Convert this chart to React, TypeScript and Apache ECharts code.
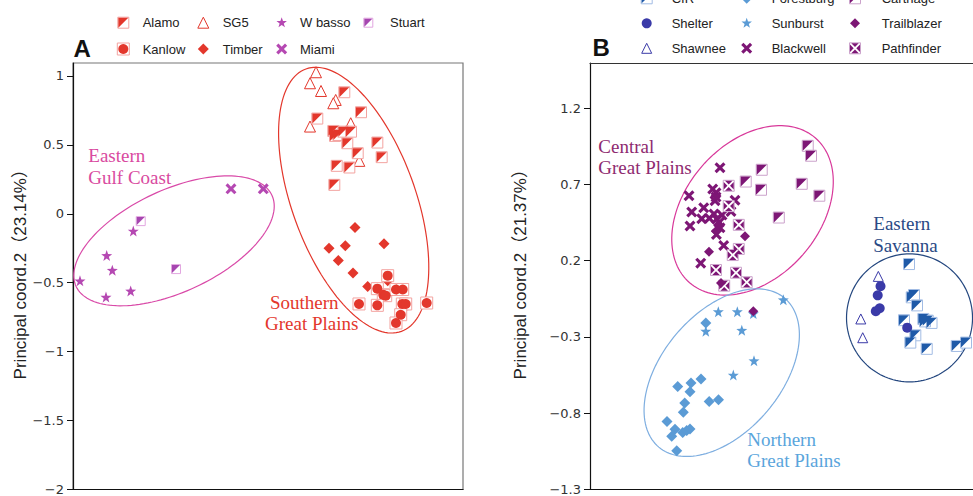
import React, { useEffect, useRef } from "react";
import * as echarts from "echarts";

// ---------- Panel A data (x: PCo1 in arbitrary units 0–10, y: PCo2) ----------
const alamo = [
  [6.956, 0.882], [7.385, 0.737], [6.264, 0.691], [6.674, 0.601], [6.718, 0.565],
  [6.803, 0.572], [6.931, 0.596], [7.128, 0.596], [7.033, 0.512], [7.803, 0.517],
  [7.3, 0.44], [7.915, 0.411], [6.762, 0.348], [7.085, 0.336], [6.7, 0.21],
];
const sg5 = [
  [6.231, 1.027], [6.077, 0.947], [6.359, 0.891], [6.736, 0.826], [6.674, 0.802],
  [7.121, 0.657], [6.077, 0.633], [7.341, 0.384],
];
const timber = [
  [7.231, -0.099], [6.564, -0.249], [6.982, -0.232], [7.974, -0.217], [6.803, -0.338],
  [7.179, -0.43], [7.556, -0.527], [8.069, -0.486],
];
const kanlow = [
  [8.069, -0.449], [7.803, -0.543], [7.956, -0.587], [8.018, -0.594], [8.282, -0.549],
  [8.454, -0.549], [7.333, -0.654], [7.803, -0.664], [8.444, -0.654], [8.531, -0.654],
  [9.069, -0.647], [8.403, -0.732], [8.282, -0.792],
];
const wBasso = [
  [1.546, -0.125], [0.864, -0.302], [1.008, -0.409], [0.179, -0.486], [0.846, -0.604], [1.479, -0.56],
];
const stuart = [[1.736, -0.053], [2.641, -0.401]];
const miami = [[4.051, 0.181], [4.879, 0.181]];
const yTicksA = [-2, -1.5, -1, -0.5, 0, 0.5, 1];

// ---------- Panel B data ----------
const cir = [
  [7.975, 0.178], [8.043, -0.04], [8.1, -0.025], [8.175, -0.093], [7.85, -0.19],
  [8.333, -0.182], [8.443, -0.193], [8.538, -0.208], [8.375, -0.198], [8.133, -0.289],
  [8.008, -0.337], [8.418, -0.378], [9.168, -0.359], [9.4, -0.337],
];
const shelter = [[7.263, 0.033], [7.193, -0.027], [7.243, -0.112], [7.145, -0.131], [7.93, -0.239]];
const shawnee = [[7.208, 0.097], [6.77, -0.182], [6.818, -0.305]];
const forestburg = [
  [2.895, -0.209], [2.775, -0.575], [2.193, -0.624], [2.525, -0.601], [2.5, -0.66],
  [2.368, -0.733], [2.333, -0.793], [2.98, -0.723], [3.213, -0.711], [1.925, -0.854],
  [2.125, -0.905], [2.318, -0.926], [2.418, -0.913], [2.5, -0.904], [2.043, -0.951], [2.168, -1.046],
];
const sunburst = [
  [4.833, -0.056], [3.208, -0.134], [3.683, -0.134], [4.083, -0.147], [2.895, -0.262],
  [3.795, -0.256], [4.1, -0.456], [3.583, -0.55],
];
const carthage = [
  [5.443, 0.953], [5.525, 0.888], [4.293, 0.796], [3.893, 0.719], [4.275, 0.665],
  [5.293, 0.704], [5.733, 0.626], [4.72, 0.483],
];
const blackwell = [
  [3.25, 0.809], [2.475, 0.626], [2.543, 0.519], [2.5, 0.427], [2.843, 0.547],
  [2.793, 0.475], [2.983, 0.478], [3.15, 0.645], [3.125, 0.593], [3.15, 0.617],
  [3.625, 0.596], [3.525, 0.522], [3.168, 0.473], [3.233, 0.451], [3.25, 0.416],
  [3.16, 0.372], [3.343, 0.3], [2.768, 0.184], [3.068, 0.67], [3.1, 0.506], [3.3, 0.499],
];
const trailblazer = [
  [3.875, 0.36], [2.975, 0.259], [3.275, 0.054], [3.2, 0.434], [3.15, 0.395], [4.083, -0.131],
];
const pathfinder = [
  [3.468, 0.691], [3.468, 0.558], [3.72, 0.435], [3.72, 0.277], [3.568, 0.237],
  [3.15, 0.139], [3.65, 0.121], [3.918, 0.059], [3.355, 0.036],
];
const yTicksB = [-1.3, -0.8, -0.3, 0.2, 0.7, 1.2];

// ---------- symbols ----------
const starPath = (() => {
  const pts: string[] = [];
  for (let i = 0; i < 10; i++) {
    const ang = -Math.PI / 2 + (i * Math.PI) / 5;
    const r = i % 2 === 0 ? 5 : 2.0;
    pts.push(`${(5 + r * Math.cos(ang)).toFixed(2)} ${(5 + r * Math.sin(ang)).toFixed(2)}`);
  }
  return "M" + pts.join(" L") + " Z";
})();
const PATHS: Record<string, string> = {
  halfTri: "M0 0 L10 0 L0 10 Z",
  boldX: "M0 2 L2 0 L5 3 L8 0 L10 2 L7 5 L10 8 L8 10 L5 7 L2 10 L0 8 L3 5 Z",
  star: starPath,
  xsq: "M1.3 0 L8.7 0 L5 3.7 Z M10 1.3 L10 8.7 L6.3 5 Z M8.7 10 L1.3 10 L5 6.3 Z M0 8.7 L0 1.3 L3.7 5 Z",
};
Object.keys(PATHS).forEach((k) => {
  echarts.graphic.registerShape("sym_" + k, echarts.graphic.extendPath(PATHS[k], {}) as any);
});

const RED = "#e3372c";
const MAG = "#b548b2";
const PUR = "#7d1675";
const LBL = "#5b9bd5";
const NAVY = "#3a3aa8";
const CIRB = "#1f5aa8";

type Layer = { s: string; size: number; fill: string; stroke?: string; lw?: number };
const STY: Record<string, Layer[]> = {
  Alamo: [{ s: "rect", size: 11, fill: "#fff", stroke: "#f3a3a0", lw: 1 }, { s: "halfTri", size: 10, fill: RED }],
  SG5: [{ s: "triangle", size: 11, fill: "#fff", stroke: RED, lw: 1 }],
  "W basso": [{ s: "star", size: 11, fill: MAG }],
  Stuart: [{ s: "rect", size: 9, fill: "#fff", stroke: "#e2a6e0", lw: 1 }, { s: "halfTri", size: 8, fill: "#a646b0" }],
  Kanlow: [{ s: "rect", size: 12, fill: "#fff", stroke: "#f3a3a0", lw: 1 }, { s: "circle", size: 10, fill: RED }],
  Timber: [{ s: "diamond", size: 11, fill: RED }],
  Miami: [{ s: "boldX", size: 11, fill: MAG }],
  CIR: [{ s: "rect", size: 11, fill: "#fff", stroke: "#a2bce4", lw: 1 }, { s: "halfTri", size: 10, fill: CIRB }],
  Forestburg: [{ s: "diamond", size: 11, fill: LBL }],
  Carthage: [{ s: "rect", size: 11, fill: "#fff", stroke: "#cba2cb", lw: 1 }, { s: "halfTri", size: 10, fill: PUR }],
  Shelter: [{ s: "circle", size: 10, fill: NAVY }],
  Sunburst: [{ s: "star", size: 11, fill: LBL }],
  Trailblazer: [{ s: "diamond", size: 10, fill: PUR }],
  Shawnee: [{ s: "triangle", size: 10, fill: "#fff", stroke: NAVY, lw: 1 }],
  Blackwell: [{ s: "boldX", size: 11, fill: PUR }],
  Pathfinder: [{ s: "rect", size: 11, fill: "#fff", stroke: "#cba2cb", lw: 1 }, { s: "xsq", size: 10, fill: PUR }],
};

const groupsA: [string, number[][]][] = [
  ["SG5", sg5], ["Alamo", alamo], ["Timber", timber], ["Kanlow", kanlow],
  ["W basso", wBasso], ["Stuart", stuart], ["Miami", miami],
];
const groupsB: [string, number[][]][] = [
  ["Forestburg", forestburg], ["Sunburst", sunburst], ["Carthage", carthage], ["Blackwell", blackwell],
  ["Pathfinder", pathfinder], ["Trailblazer", trailblazer], ["CIR", cir], ["Shelter", shelter], ["Shawnee", shawnee],
];

// ellipse annotations: centre in data units, semi-axes in px, angle in deg (screen)
const ellipsesA = [
  { cx: 2.59, cy: -0.196, a: 108, b: 51, angle: -25, color: "#d94aa8" },
  { cx: 7.197, cy: 0.099, a: 139.6, b: 61.7, angle: 70, color: RED },
];
const ellipsesB = [
  { cx: 4.063, cy: 0.53, a: 95.9, b: 67.1, angle: -49, color: "#d8389a" },
  { cx: 3.293, cy: -0.534, a: 97.5, b: 59.6, angle: -49.8, color: "#7eaee0" },
  { cx: 7.988, cy: -0.175, a: 63, b: 64, angle: 0, color: "#24477f" },
];

const legendA = [
  ["Alamo", "SG5", "W basso", "Stuart"],
  ["Kanlow", "Timber", "Miami"],
];
const legendB = [
  ["CIR", "Forestburg", "Carthage"],
  ["Shelter", "Sunburst", "Trailblazer"],
  ["Shawnee", "Blackwell", "Pathfinder"],
];

const fmt = (v: number) => {
  const n = Number(v.toFixed(2));
  return n < 0 ? "\u2212" + String(Math.abs(n)) : String(n);
};

function symbolOf(s: string) {
  return PATHS[s] ? "path://" + PATHS[s] : s;
}

function iconEls(name: string, cx: number, cy: number) {
  return STY[name].map((l) => {
    const h = l.size / 2;
    const style: any = { fill: l.fill, stroke: l.stroke || null, lineWidth: l.lw || 0 };
    if (l.s === "rect") return { type: "rect", shape: { x: cx - h, y: cy - h, width: l.size, height: l.size }, style };
    if (l.s === "circle") return { type: "circle", shape: { cx, cy, r: h }, style };
    if (l.s === "triangle")
      return { type: "polygon", shape: { points: [[cx, cy - h], [cx + h, cy + h], [cx - h, cy + h]] }, style };
    if (l.s === "diamond")
      return { type: "polygon", shape: { points: [[cx, cy - h], [cx + h, cy], [cx, cy + h], [cx - h, cy]] }, style };
    return { type: "sym_" + l.s, x: cx - h, y: cy - h, scaleX: l.size / 10, scaleY: l.size / 10, style };
  });
}

function renderEllipse(list: any[]) {
  return (params: any, api: any) => {
    const e = list[params.dataIndex];
    const c = api.coord([e.cx, e.cy]);
    const th = (e.angle * Math.PI) / 180;
    const pts: number[][] = [];
    for (let i = 0; i < 144; i++) {
      const t = (i / 144) * 2 * Math.PI;
      const dx = e.a * Math.cos(t);
      const dy = e.b * Math.sin(t);
      pts.push([c[0] + dx * Math.cos(th) - dy * Math.sin(th), c[1] + dx * Math.sin(th) + dy * Math.cos(th)]);
    }
    return { type: "polygon", shape: { points: pts }, style: { fill: "none", stroke: e.color, lineWidth: 1.2 } };
  };
}

export default function App() {
  const ref = useRef<HTMLDivElement>(null);
  useEffect(() => {
    if (!ref.current) return;
    const chart = echarts.init(ref.current, undefined, { renderer: "svg" });

    const series: any[] = [];
    series.push({
      type: "custom", xAxisIndex: 0, yAxisIndex: 0, silent: true, z: 1, clip: false,
      data: ellipsesA.map((e) => [e.cx, e.cy]), renderItem: renderEllipse(ellipsesA),
    });
    series.push({
      type: "custom", xAxisIndex: 1, yAxisIndex: 1, silent: true, z: 1, clip: false,
      data: ellipsesB.map((e) => [e.cx, e.cy]), renderItem: renderEllipse(ellipsesB),
    });
    const addGroups = (groups: [string, number[][]][], idx: number) => {
      groups.forEach(([name, data]) => {
        STY[name].forEach((l, li) => {
          series.push({
            type: "scatter", name, xAxisIndex: idx, yAxisIndex: idx, data, silent: true, z: 3 + li,
            symbol: symbolOf(l.s), symbolSize: l.size,
            itemStyle: { color: l.fill, borderColor: l.stroke || "transparent", borderWidth: l.lw || 0, opacity: 1 },
          });
        });
      });
    };
    addGroups(groupsA, 0);
    addGroups(groupsB, 1);

    const graphics: any[] = [];
    const lgFont = '13px "Liberation Sans", Arial, sans-serif';
    const colA = [123.3, 203.3, 281.7, 368.3];
    const txtA = [142.7, 222.7, 300, 390];
    const rowA = [22.7, 49];
    legendA.forEach((row, r) =>
      row.forEach((name, c) => {
        graphics.push(...iconEls(name, colA[c], rowA[r]));
        graphics.push({ type: "text", x: txtA[c], y: rowA[r], style: { text: name, font: lgFont, fill: "#222", align: "left", verticalAlign: "middle" } });
      })
    );
    const colB = [646.7, 746.7, 855];
    const txtB = [671.7, 771.7, 881.7];
    const rowB = [-1.7, 23.3, 48.3];
    legendB.forEach((row, r) =>
      row.forEach((name, c) => {
        graphics.push(...iconEls(name, colB[c], rowB[r]));
        graphics.push({ type: "text", x: txtB[c], y: rowB[r], style: { text: name, font: lgFont, fill: "#222", align: "left", verticalAlign: "middle" } });
      })
    );
    const panelFont = 'bold 24px "Liberation Sans", Arial, sans-serif';
    graphics.push({ type: "text", x: 73.5, y: 48.4, style: { text: "A", font: panelFont, fill: "#111", align: "left", verticalAlign: "middle" } });
    graphics.push({ type: "text", x: 592.5, y: 47.7, style: { text: "B", font: panelFont, fill: "#111", align: "left", verticalAlign: "middle" } });

    const serif = '19px "Liberation Serif", "Times New Roman", serif';
    const labels: [string, number, number, string][] = [
      ["Eastern", 88.3, 155.2, "#d94aa0"],
      ["Gulf Coast", 88.3, 177.5, "#d94aa0"],
      ["Southern", 270, 302.5, RED],
      ["Great Plains", 265, 323.5, RED],
      ["Central", 598.3, 146.2, "#8e2a70"],
      ["Great Plains", 598.3, 167.8, "#8e2a70"],
      ["Eastern", 873.3, 223.5, "#2a4a85"],
      ["Savanna", 873.3, 245.2, "#2a4a85"],
      ["Northern", 747.3, 439.2, "#5aa5dc"],
      ["Great Plains", 747.3, 460.8, "#5aa5dc"],
    ];
    labels.forEach(([t, x, y, col]) =>
      graphics.push({ type: "text", x, y, z: 10, style: { text: t, font: serif, fill: col, align: "left", verticalAlign: "middle" } })
    );

    const tickFont = { fontFamily: '"DejaVu Sans", sans-serif', fontSize: 13, color: "#333" };
    const nameStyle = {
      fontFamily: '"Liberation Sans", "Noto Sans CJK JP", Arial, sans-serif', fontSize: 17, color: "#222",
      padding: [0, 0, 0, 12],
    };
    const yAxis = (idx: number, min: number, max: number, ticks: number[], name: string, gap: number) => ({
      type: "value", gridIndex: idx, min, max, name, nameLocation: "middle", nameGap: gap, nameTextStyle: nameStyle,
      axisLine: { show: true, lineStyle: { color: "#111", width: 1.2 } },
      axisTick: { show: true, inside: false, length: 6, customValues: ticks, lineStyle: { color: "#111" } },
      axisLabel: { show: true, customValues: ticks, margin: 9, formatter: fmt, ...tickFont },
      splitLine: { show: false },
    });
    const xAxis = (idx: number, max: number, position: string, color: string) => ({
      type: "value", gridIndex: idx, min: 0, max, position,
      axisLine: { show: true, onZero: false, lineStyle: { color, width: 1.2 } },
      axisTick: { show: false }, axisLabel: { show: false }, splitLine: { show: false },
    });

    chart.setOption({
      animation: false,
      backgroundColor: "#fff",
      grid: [
        { left: 73, top: 63, width: 390, height: 427, show: true, borderColor: "#777", borderWidth: 1.2, backgroundColor: "transparent" },
        { left: 590, top: 63, right: 0, height: 427, show: false },
      ],
      xAxis: [xAxis(0, 10, "bottom", "#111"), xAxis(1, 9.575, "bottom", "#111"), xAxis(1, 9.575, "top", "#333")],
      yAxis: [
        yAxis(0, -2, 1.094, yTicksA, "Principal coord.2\uFF0823.14%\uFF09", 44),
        yAxis(1, -1.3, 1.496, yTicksB, "Principal coord.2\uFF0821.37%\uFF09", 61),
      ],
      series,
      graphic: graphics,
    });
    return () => chart.dispose();
  }, []);
  return <div ref={ref} style={{ position: "fixed", left: 0, top: 0, width: 973, height: 496 }} />;
}
